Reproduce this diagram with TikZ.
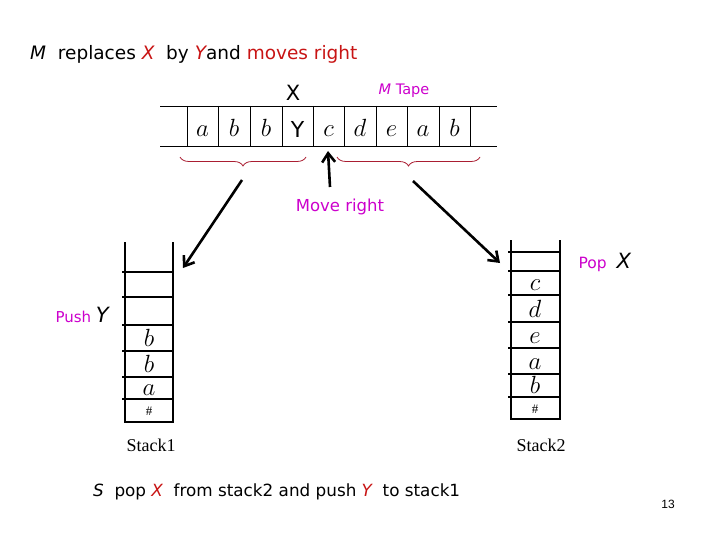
\documentclass[tikz,border=0pt]{standalone}
\usepackage{fontspec}
\setmainfont{DejaVu Sans}
\newfontfamily\serifstack{Liberation Serif}
\newfontfamily\pagenum{Liberation Sans}
\usetikzlibrary{arrows.meta, decorations.pathreplacing, positioning}

\definecolor{pinktext}{RGB}{204,0,204}
\definecolor{redtext}{RGB}{200,20,20}
\definecolor{bracered}{RGB}{170,30,50}

\tikzset{
    tapesym/.style={font=\fontsize{26}{28}\selectfont, anchor=base},
    stacksym/.style={font=\fontsize{24}{26}\selectfont, anchor=base},
    wall/.style={line width=2.2pt},
    rung/.style={line width=1.4pt},
    bigarrow/.style={line width=2.6pt, -{Straight Barb[length=9pt, width=13pt]}},
    tapebrace/.style={bracered, line width=0.8pt, decorate, decoration={brace, mirror, amplitude=9pt}}
}

\begin{document}
\begin{tikzpicture}[x=1pt, y=-1pt]
    \useasboundingbox (0,0) rectangle (720,540);

    % Title
    \node[anchor=base west, font=\fontsize{18.5}{21}\selectfont, inner sep=0pt] (title) at (30,60)
        {\itshape M\upshape\ \ replaces \textcolor{redtext}{\itshape X}\ \ by \textcolor{redtext}{\itshape Y}and \textcolor{redtext}{moves right}};

    % Tape
    \draw (160,106) -- (497,106);
    \draw (160,146) -- (497,146);
    \foreach \x in {187,218,250,282,313,344,376,407,439,470}
        \draw (\x,106) -- (\x,146);
    \foreach \s/\x [count=\i] in {a/202.5,b/234,b/266,c/328.5,d/360,e/391.5,a/423,b/454.5}
        \node[tapesym] (t\i) at (\x,137) {$\s$};
    \node[tapesym, font=\fontsize{22}{24}\selectfont] (ty) at (297.5,138) {Y};
    \node[font=\fontsize{21}{23}\selectfont] (xlabel) at (293,93) {X};
    \node[pinktext, font=\fontsize{14.5}{16}\selectfont] (tapelabel) at (404,91) {\itshape M\upshape\ Tape};

    % Braces under the tape
    \draw[tapebrace] (180,157) -- (306,157);
    \draw[tapebrace] (337,157) -- (480,157);
    \coordinate (lefttip) at (242,180);
    \coordinate (righttip) at (413,181);

    % Head
    \coordinate (headfoot) at (330,187);
    \coordinate (headtop) at (328,151);
    \draw[bigarrow] (headfoot) -- (headtop);
    \node[pinktext, font=\fontsize{16.5}{18}\selectfont] (moveright) at (340,207) {Move right};

    % Stack 1
    \draw[wall] (125,242) -- (125,422) -- (173,422) -- (173,242);
    \foreach \y in {272,297,325,351,377,399}
        \draw[rung] (122,\y) -- (173,\y);
    \node[stacksym] (s1b) at (149,346) {$b$};
    \node[stacksym] (s1bb) at (149,372) {$b$};
    \node[stacksym] (s1a) at (149,395) {$a$};
    \node[font=\fontsize{13}{15}\selectfont\serifstack] (s1bottom) at (149,411) {\#};
    \coordinate (s1in) at (183,268);
    \node[font=\fontsize{18}{20}\selectfont\serifstack] (stackone) at (151,445) {Stack1};
    \node[anchor=base west, font=\fontsize{15}{17}\selectfont] (pushlabel) at (52,322)
        {\textcolor{pinktext}{Push}\ {\fontsize{21}{23}\selectfont\itshape Y}};

    % Stack 2
    \draw[wall] (511,240) -- (511,419) -- (560,419) -- (560,240);
    \foreach \y in {252,271,295,322,348,374,397}
        \draw[rung] (508,\y) -- (560,\y);
    \node[stacksym] (s2c) at (535,290) {$c$};
    \node[stacksym] (s2d) at (535,317) {$d$};
    \node[stacksym] (s2e) at (535,343) {$e$};
    \node[stacksym] (s2a) at (535,369) {$a$};
    \node[stacksym] (s2b) at (535,393) {$b$};
    \node[font=\fontsize{13}{15}\selectfont\serifstack] (s2bottom) at (535,409) {\#};
    \coordinate (s2in) at (500,263);
    \node[font=\fontsize{18}{20}\selectfont\serifstack] (stacktwo) at (541,445) {Stack2};
    \node[anchor=base west, font=\fontsize{15.5}{17}\selectfont] (poplabel) at (575,268)
        {\textcolor{pinktext}{Pop}\ \ {\fontsize{21}{23}\selectfont\itshape X}};

    % Moves to the stacks
    \draw[bigarrow] (lefttip) -- (s1in);
    \draw[bigarrow] (righttip) -- (s2in);

    % Footer
    \node[anchor=base west, font=\fontsize{16.8}{19}\selectfont, inner sep=0pt] (footer) at (93,496)
        {\itshape S\upshape\ \ pop \textcolor{redtext}{\itshape X}\ \ from stack2 and push \textcolor{redtext}{\itshape Y}\ \ to stack1};
    \node[font=\fontsize{12}{14}\selectfont\pagenum] (pageno) at (668,504) {13};
\end{tikzpicture}
\end{document}
